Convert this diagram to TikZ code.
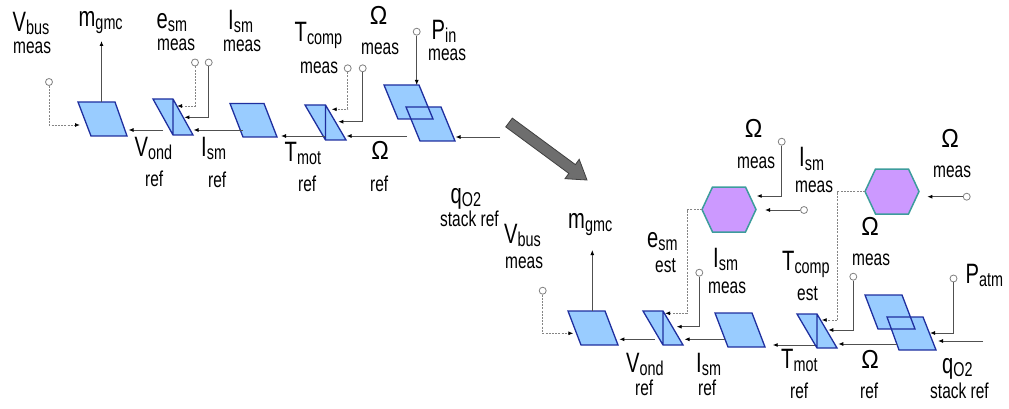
\documentclass[tikz,border=0pt]{standalone}
\usepackage{fontspec}
\setmainfont{Liberation Sans}[FakeStretch=0.72]
\newfontfamily\omfont{Liberation Sans}[FakeStretch=0.9]
\usetikzlibrary{arrows.meta}
\definecolor{pfill}{HTML}{99CCFF}
\definecolor{pline}{HTML}{1F2F9F}
\definecolor{hfill}{HTML}{CC99FF}
\definecolor{hline}{HTML}{3D9C9C}
\definecolor{lgray}{HTML}{505050}
\definecolor{dgray}{HTML}{858585}
\definecolor{cgray}{HTML}{808080}
\definecolor{agray}{HTML}{6E6E6E}
\definecolor{adark}{HTML}{404040}
\newcommand\mysym[2]{{\fontsize{28}{28}\selectfont #1}\raisebox{-3pt}{\fontsize{20}{20}\selectfont #2}}
\newcommand\myom{{\omfont\fontsize{26}{26}\selectfont Ω}}
\newcommand\mywd[1]{{\fontsize{21.5}{21.5}\selectfont #1}}
\tikzset{
  pgram/.style={fill=pfill, draw=none},
  pedge/.style={draw=pline, line width=1.3pt, line join=miter},
  hexs/.style={fill=hfill, draw=hline, line width=1.5pt},
  sig/.style={draw=lgray, line width=0.9pt, -{Latex[length=5pt,width=4pt,color=black]}},
  estsig/.style={sig, draw=dgray, dash pattern=on 2pt off 1.2pt},
  port/.style={circle, draw=cgray, fill=white, inner sep=0pt, minimum size=7pt, line width=0.8pt},
  bigarrow/.style={fill=agray, draw=adark, line width=0.8pt, line join=miter},
  lbl/.style={anchor=base west, inner sep=0pt},
  olbl/.style={anchor=base, inner sep=0pt}
}
\begin{document}
\begin{tikzpicture}[x=1pt,y=-1pt]
\useasboundingbox (0,0) rectangle (1009,409);

% ================= LEFT CHAIN =================
\path[pgram] (78,102) -- (115,102) -- (127,136) -- (91,136) -- cycle;
\path[pedge] (78,102) -- (115,102) -- (127,136) -- (91,136) -- cycle;
\path[pgram] (153,99) -- (173,99) -- (193,135) -- (173,135) -- cycle;
\path[pedge] (153,99) -- (173,99) -- (193,135) -- (173,135) -- cycle (173,99) -- (173,135);
\path[pgram] (230,103.5) -- (264,103.5) -- (277,137) -- (243,137) -- cycle;
\path[pedge] (230,103.5) -- (264,103.5) -- (277,137) -- (243,137) -- cycle;
\path[pgram] (305,105) -- (325.5,105) -- (346,140) -- (325.5,140) -- cycle;
\path[pedge] (305,105) -- (325.5,105) -- (346,140) -- (325.5,140) -- cycle (325.5,105) -- (325.5,140);
\path[pgram] (384,85) -- (419,85) -- (433,119) -- (398,119) -- cycle;
\path[pgram] (406,107) -- (441,107) -- (455,141) -- (420,141) -- cycle;
\path[pedge] (384,85) -- (419,85) -- (433,119) -- (398,119) -- cycle;
\path[pedge] (406,107) -- (441,107) -- (455,141) -- (420,141) -- cycle;

% ports
\node[port] (Lvbus) at (49,82) {};
\node[port] (Lesm) at (195,62.5) {};
\node[port] (Lism) at (208.7,62.5) {};
\node[port] (Ltcomp) at (347.7,68.3) {};
\node[port] (Lom) at (362.7,68.3) {};
\node[port] (Lpin) at (416.7,31.7) {};

% connector end points
\coordinate (Lq) at (500,137);
\coordinate (L5in) at (455.5,137);
\coordinate (L5out) at (407,136);
\coordinate (L4in) at (346.5,136);
\coordinate (L4out) at (325,136);
\coordinate (L3in) at (281,136);
\coordinate (L3out) at (243,130);
\coordinate (L2in) at (193.5,130);
\coordinate (L2out) at (163,130);
\coordinate (L1in) at (128.5,130);
\coordinate (L1vb) at (80,125);
\coordinate (L1top) at (101.5,102);
\coordinate (Lmg) at (101.5,41);
\coordinate (L2e) at (177,106);
\coordinate (L2i) at (184.3,117.3);
\coordinate (L4t) at (331.7,109.3);
\coordinate (L4o) at (338.3,121.7);
\coordinate (L5p) at (416.7,85);

\draw[sig] (Lq) -- (L5in);
\draw[sig] (L5out) -- (L4in);
\draw[sig] (L4out) -- (L3in);
\draw[sig] (L3out) -- (L2in);
\draw[sig] (L2out) -- (L1in);
\draw[estsig] (Lvbus.south) |- (L1vb);
\draw[sig] (L1top) -- (Lmg);
\draw[estsig] (Lesm.south) |- (L2e);
\draw[sig] (Lism.south) |- (L2i);
\draw[estsig] (Ltcomp.south) |- (L4t);
\draw[sig] (Lom.south) |- (L4o);
\draw[sig] (Lpin.south) -- (L5p);

% labels
\node[lbl] (tVbusL) at (12.5,31.7) {\mysym{V}{bus}};
\node[lbl] (tVbusLm) at (13,54) {\mywd{meas}};
\node[lbl] (tmgL) at (78.5,27) {\mysym{m}{gmc}};
\node[lbl] (tesmL) at (156.5,28.3) {\mysym{e}{sm}};
\node[lbl] (tesmLm) at (157,51) {\mywd{meas}};
\node[lbl] (tismL) at (228,30) {\mysym{I}{sm}};
\node[lbl] (tismLm) at (223,52) {\mywd{meas}};
\node[lbl] (ttcL) at (294.5,42) {\mysym{T}{comp}};
\node[lbl] (ttcLm) at (300,73.3) {\mywd{meas}};
\node[olbl] (tomL) at (378.5,25) {\myom};
\node[lbl] (tomLm) at (361,55) {\mywd{meas}};
\node[lbl] (tpinL) at (431.5,39.3) {\mysym{P}{in}};
\node[lbl] (tpinLm) at (428,61) {\mywd{meas}};
\node[lbl] (tvoL) at (134.5,156.5) {\mysym{V}{ond}};
\node[lbl] (tvoLr) at (145,186.7) {\mywd{ref}};
\node[lbl] (tisrL) at (201,156.7) {\mysym{I}{sm}};
\node[lbl] (tisrLr) at (208,187) {\mywd{ref}};
\node[lbl] (ttmL) at (284.5,161.7) {\mysym{T}{mot}};
\node[lbl] (ttmLr) at (298,191.7) {\mywd{ref}};
\node[olbl] (tomrL) at (380,160) {\myom};
\node[lbl] (tomrLr) at (370,191) {\mywd{ref}};
\node[lbl] (tqL) at (450.5,203.3) {\mysym{q}{O2}};
\node[lbl] (tqLr) at (440,226.7) {\mywd{stack ref}};

% ================= BIG ARROW =================
\path[bigarrow] (505.7,126.9) -- (512.3,118.1) -- (575.4,164.6) -- (579.2,159.3)
  -- (587,180) -- (565.0,178.7) -- (568.8,173.4) -- cycle;

% ================= RIGHT CHAIN =================
\path[pgram] (568,311) -- (605,311) -- (618,345) -- (581,345) -- cycle;
\path[pedge] (568,311) -- (605,311) -- (618,345) -- (581,345) -- cycle;
\path[pgram] (643,311) -- (663,311) -- (683,345) -- (663,345) -- cycle;
\path[pedge] (643,311) -- (663,311) -- (683,345) -- (663,345) -- cycle (663,311) -- (663,345);
\path[pgram] (715,313) -- (752,313) -- (765,347) -- (728,347) -- cycle;
\path[pedge] (715,313) -- (752,313) -- (765,347) -- (728,347) -- cycle;
\path[pgram] (797,314) -- (817,314) -- (837,348) -- (817,348) -- cycle;
\path[pedge] (797,314) -- (817,314) -- (837,348) -- (817,348) -- cycle (817,314) -- (817,348);
\path[pgram] (865,295) -- (902,295) -- (915,329) -- (878,329) -- cycle;
\path[pgram] (887,317) -- (923,317) -- (936,350) -- (899,350) -- cycle;
\path[pedge] (865,295) -- (902,295) -- (915,329) -- (878,329) -- cycle;
\path[pedge] (887,317) -- (923,317) -- (936,350) -- (899,350) -- cycle;

% hexagons (estimators)
\path[hexs] (702,209.5) -- (712.5,187) -- (745.5,187) -- (756,209.5) -- (745.5,232) -- (712.5,232) -- cycle;
\coordinate (h1W) at (702,209.5);
\path[hexs] (865,191.5) -- (875.5,169) -- (908.5,169) -- (919,191.5) -- (908.5,214) -- (875.5,214) -- cycle;
\coordinate (h2W) at (865,191.5);

% ports
\node[port] (Rvbus) at (542.7,290.7) {};
\node[port] (Rism) at (699.3,272.7) {};
\node[port] (Rom) at (853.3,276.7) {};
\node[port] (Rpatm) at (953.5,278.5) {};
\node[port] (Rh1a) at (781.7,141.7) {};
\node[port] (Rh1b) at (804,210) {};
\node[port] (Rh2) at (966.7,196.7) {};

% connector end points
\coordinate (Rq) at (983,341);
\coordinate (R5in) at (938,341);
\coordinate (R5p) at (930,333);
\coordinate (R5out) at (897,344);
\coordinate (R4in) at (838.3,344);
\coordinate (R4o) at (828.3,330);
\coordinate (R4k) at (837.7,320);
\coordinate (R4t) at (821.7,320);
\coordinate (R4out) at (815,345);
\coordinate (R3in) at (772.7,345);
\coordinate (R3out) at (725,339.3);
\coordinate (R2in) at (684.5,339.3);
\coordinate (R2k) at (687.3,313.3);
\coordinate (R2e) at (665,313.3);
\coordinate (R2i) at (676.7,326.7);
\coordinate (R2out) at (655,339.3);
\coordinate (R1in) at (619.3,339.3);
\coordinate (R1vb) at (573.3,333.3);
\coordinate (R1top) at (592.3,311);
\coordinate (Rmg) at (592.3,250);
\coordinate (h1a) at (756.7,196);
\coordinate (h1b) at (765,210);
\coordinate (h2a) at (927.3,196.7);

\draw[sig] (Rq) -- (R5in);
\draw[sig] (Rpatm.south) |- (R5p);
\draw[sig] (R5out) -- (R4in);
\draw[sig] (Rom.south) |- (R4o);
\draw[estsig] (h2W) -| (R4k) -- (R4t);
\draw[sig] (R4out) -- (R3in);
\draw[sig] (R3out) -- (R2in);
\draw[estsig] (h1W) -| (R2k) -- (R2e);
\draw[sig] (Rism.south) |- (R2i);
\draw[sig] (R2out) -- (R1in);
\draw[estsig] (Rvbus.south) |- (R1vb);
\draw[sig] (R1top) -- (Rmg);
\draw[sig] (Rh1a.south) |- (h1a);
\draw[sig] (Rh1b.west) -- (h1b);
\draw[sig] (Rh2.west) -- (h2a);

% labels
\node[lbl] (tVbusR) at (504,243) {\mysym{V}{bus}};
\node[lbl] (tVbusRm) at (505,268) {\mywd{meas}};
\node[lbl] (tmgR) at (568,228) {\mysym{m}{gmc}};
\node[lbl] (tesmR) at (647,247) {\mysym{e}{sm}};
\node[lbl] (tesmRe) at (655,272) {\mywd{est}};
\node[lbl] (tismR) at (713,267) {\mysym{I}{sm}};
\node[lbl] (tismRm) at (708,293) {\mywd{meas}};
\node[lbl] (tvoR) at (626,372) {\mysym{V}{ond}};
\node[lbl] (tvoRr) at (635,395) {\mywd{ref}};
\node[lbl] (tisrR) at (696,372) {\mysym{I}{sm}};
\node[lbl] (tisrRr) at (698,395) {\mywd{ref}};
\node[olbl] (tom1) at (753.5,138) {\myom};
\node[lbl] (tom1m) at (737,168) {\mywd{meas}};
\node[lbl] (tism1) at (799,167) {\mysym{I}{sm}};
\node[lbl] (tism1m) at (795,192) {\mywd{meas}};
\node[olbl] (tom2) at (950,147) {\myom};
\node[lbl] (tom2m) at (933,177) {\mywd{meas}};
\node[olbl] (tom3) at (870,235) {\myom};
\node[lbl] (tom3m) at (852,265) {\mywd{meas}};
\node[lbl] (ttcR) at (782,270) {\mysym{T}{comp}};
\node[lbl] (ttcRe) at (797,300) {\mywd{est}};
\node[lbl] (tpatm) at (965.5,283) {\mysym{P}{atm}};
\node[lbl] (ttmR) at (781,368) {\mysym{T}{mot}};
\node[lbl] (ttmRr) at (790,398) {\mywd{ref}};
\node[olbl] (tomrR) at (870,368) {\myom};
\node[lbl] (tomrRr) at (860,398) {\mywd{ref}};
\node[lbl] (tqR) at (942,373) {\mysym{q}{O2}};
\node[lbl] (tqRr) at (930,398) {\mywd{stack ref}};
\end{tikzpicture}
\end{document}
